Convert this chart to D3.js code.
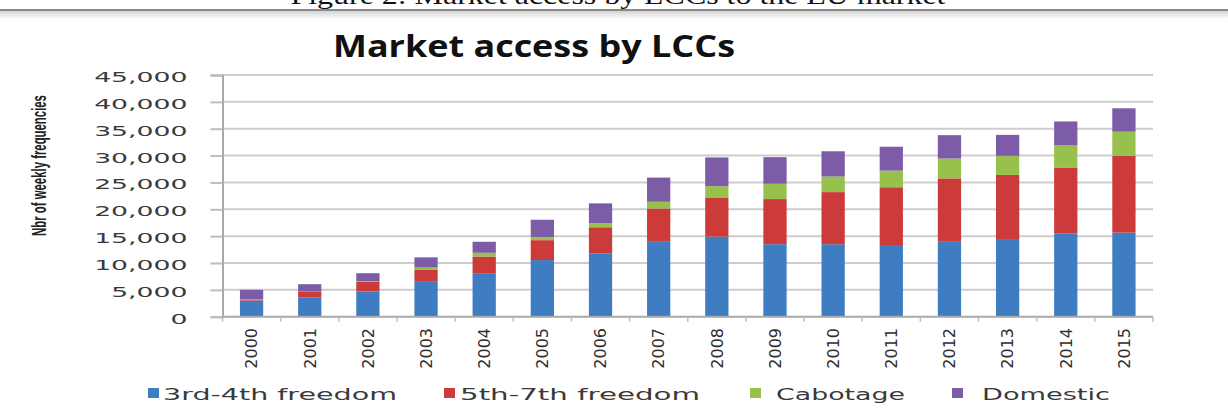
<!DOCTYPE html>
<html>
<head>
<meta charset="utf-8">
<script src="https://cdn.jsdelivr.net/npm/d3@7"></script>
<style>
  html, body { margin: 0; padding: 0; background: #fff; }
  svg { display: block; }
</style>
</head>
<body>
<script>
// Weekly frequencies operated by low-cost carriers, by type of market access
const years = ["2000","2001","2002","2003","2004","2005","2006","2007",
               "2008","2009","2010","2011","2012","2013","2014","2015"];
const seriesNames = ["3rd-4th freedom", "5th-7th freedom", "Cabotage", "Domestic"];
const freedom34 = [3000, 3600, 4700, 6500, 8100, 10550, 11800, 13950, 14900, 13500, 13500, 13350, 13950, 14300, 15500, 15650];
const freedom57 = [200, 1000, 1800, 2200, 3100, 3700, 4850, 6200, 7300, 8400, 9700, 10750, 11800, 12100, 12200, 14300];
const cabotage  = [50, 50, 100, 450, 700, 600, 750, 1250, 2100, 2850, 2900, 3100, 3700, 3550, 4200, 4500];
const domestic  = [1750, 1400, 1500, 1900, 2050, 3200, 3700, 4500, 5350, 4950, 4700, 4450, 4350, 3900, 4450, 4350];
const yTicks = [0, 5000, 10000, 15000, 20000, 25000, 30000, 35000, 40000, 45000];

const colors = ["#3F7DC3", "#CC3B3A", "#97C04C", "#7D5CA7"];

const W = 1228, H = 413;
const plot = { left: 222.5, right: 1153, top: 75, bottom: 316.7 };

const svg = d3.select("body").append("svg").attr("width", W).attr("height", H);

// stretch a text horizontally along its run
function stretch(sel, k) {
  sel.each(function () {
    const len = this.getComputedTextLength();
    d3.select(this).attr("textLength", len * k).attr("lengthAdjust", "spacingAndGlyphs");
  });
}

// Page caption (running off the top edge) and rule underneath
const defs = svg.append("defs");
const grad = defs.append("linearGradient").attr("id", "shade").attr("x1", 0).attr("y1", 0).attr("x2", 0).attr("y2", 1);
grad.append("stop").attr("offset", "0%").attr("stop-color", "#d4d4d4");
grad.append("stop").attr("offset", "100%").attr("stop-color", "#ffffff");

svg.append("text")
  .attr("x", 618).attr("y", 4)
  .attr("text-anchor", "middle")
  .attr("font-family", "'Liberation Serif', 'Times New Roman', serif")
  .attr("font-size", 26)
  .attr("fill", "#111")
  .attr("textLength", 655).attr("lengthAdjust", "spacingAndGlyphs")
  .text("Figure 2: Market access by LCCs to the EU market");

svg.append("rect").attr("x", 0).attr("y", 11).attr("width", W).attr("height", 8).attr("fill", "url(#shade)");
svg.append("line").attr("x1", 0).attr("x2", W).attr("y1", 10).attr("y2", 10)
  .attr("stroke", "#8a8a8a").attr("stroke-width", 2);

// Chart title
svg.append("text")
  .attr("x", 534).attr("y", 57)
  .attr("text-anchor", "middle")
  .attr("font-family", "'Open Sans', Lato, sans-serif")
  .attr("font-weight", 700)
  .attr("font-size", 30)
  .attr("fill", "#111")
  .attr("textLength", 402).attr("lengthAdjust", "spacingAndGlyphs")
  .text("Market access by LCCs");

// Scales
const x = d3.scaleBand().domain(years).range([plot.left, plot.right])
  .paddingInner(0.6).paddingOuter(0.3);
const y = d3.scaleLinear().domain([0, 45000]).range([plot.bottom, plot.top]);

// Gridlines
svg.append("g").selectAll("line").data(yTicks.filter(d => d > 0)).join("line")
  .attr("x1", plot.left).attr("x2", plot.right)
  .attr("y1", d => y(d)).attr("y2", d => y(d))
  .attr("stroke", "#cdcdcd").attr("stroke-width", 2);

// Stacked bars
const rows = years.map((yr, i) => ({
  year: yr, s0: freedom34[i], s1: freedom57[i], s2: cabotage[i], s3: domestic[i]
}));
const stacked = d3.stack().keys(["s0", "s1", "s2", "s3"])(rows);

svg.append("g").selectAll("g").data(stacked).join("g")
  .attr("fill", (d, i) => colors[i])
  .selectAll("rect").data(d => d).join("rect")
  .attr("x", d => x(d.data.year))
  .attr("width", x.bandwidth())
  .attr("y", d => y(d[1]))
  .attr("height", d => y(d[0]) - y(d[1]));

// Y axis
const yAxis = svg.append("g")
  .attr("transform", `translate(${plot.left},0)`)
  .call(d3.axisLeft(y).tickValues(yTicks).tickFormat(d3.format(",")).tickSize(12).tickPadding(23));
yAxis.select(".domain").attr("stroke", "#a9a9a9").attr("stroke-width", 2);
yAxis.selectAll(".tick line").attr("stroke", "#bdbdbd").attr("stroke-width", 2);
yAxis.selectAll(".tick text")
  .attr("font-family", "'DejaVu Sans', Verdana, sans-serif")
  .attr("font-size", 14.5)
  .attr("fill", "#3a3a3a")
  .attr("dy", "0.45em")
  .call(stretch, 1.84);

// X axis: baseline with ticks between categories
const xAxisG = svg.append("g");
xAxisG.append("line")
  .attr("x1", plot.left).attr("x2", plot.right)
  .attr("y1", plot.bottom).attr("y2", plot.bottom)
  .attr("stroke", "#a9a9a9").attr("stroke-width", 2);
const boundaries = years.map(yr => x(yr) - x.step() * x.paddingInner() / 2).concat([plot.right]);
xAxisG.selectAll("line.tk").data(boundaries).join("line").attr("class", "tk")
  .attr("x1", d => d).attr("x2", d => d)
  .attr("y1", plot.bottom).attr("y2", plot.bottom + 5)
  .attr("stroke", "#bdbdbd").attr("stroke-width", 1.5);

xAxisG.selectAll("text").data(years).join("text")
  .attr("transform", d => `translate(${x(d) + x.bandwidth() / 2},328) rotate(-90)`)
  .attr("text-anchor", "end")
  .attr("dy", "0.36em")
  .attr("font-family", "'DejaVu Sans', Verdana, sans-serif")
  .attr("font-size", 16)
  .attr("fill", "#2e2e2e")
  .text(d => d);

// Y axis title: condensed along its run to fit the axis height
const yTitle = svg.append("text")
  .attr("text-anchor", "middle")
  .attr("font-family", "'Liberation Sans Narrow', 'Liberation Sans', Arial, sans-serif")
  .attr("font-weight", 700)
  .attr("font-size", 21)
  .attr("fill", "#222")
  .text("Nbr of weekly frequencies");
const yTitleK = 141 / yTitle.node().getComputedTextLength();
yTitle.attr("transform", `translate(46,165.5) rotate(-90) scale(${yTitleK},1)`);

// Legend
const legendLayout = [
  { sx: 148, tx: 163, w: 234 },
  { sx: 444, tx: 460, w: 240 },
  { sx: 750, tx: 776, w: 129 },
  { sx: 952, tx: 982, w: 128 }
];
const legend = svg.append("g");
seriesNames.forEach((name, i) => {
  const L = legendLayout[i];
  legend.append("rect")
    .attr("x", L.sx).attr("y", 388).attr("width", 11).attr("height", 10)
    .attr("fill", colors[i]);
  legend.append("text")
    .attr("x", L.tx).attr("y", 400)
    .attr("font-family", "'DejaVu Sans', Verdana, sans-serif")
    .attr("font-size", 16)
    .attr("fill", "#3a3a3a")
    .attr("textLength", L.w).attr("lengthAdjust", "spacingAndGlyphs")
    .text(name);
});
</script>
</body>
</html>
